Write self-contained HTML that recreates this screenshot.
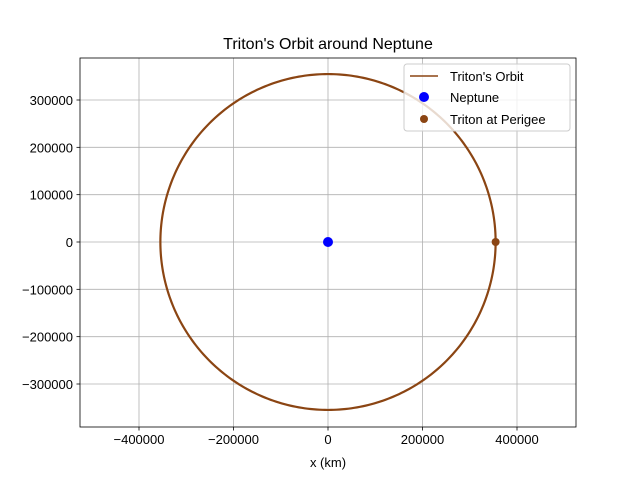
<!DOCTYPE html>
<html><head><meta charset="utf-8"><style>
html,body{margin:0;padding:0;background:#fff;}
svg{display:block;font-family:"Liberation Sans","DejaVu Sans",sans-serif;}
</style></head><body>
<svg id="chart" width="640" height="480" viewBox="0 0 640 480">
<rect width="640" height="480" fill="#fff"/>
<text x="328" y="49" font-size="16" text-anchor="middle">Triton's Orbit around Neptune</text>
<g id="grid"></g>
<g id="ticks"></g>
<g id="marks"></g>
<rect x="80" y="58" width="496" height="369" fill="none" stroke="#000" stroke-width="0.8"/>
<text x="328" y="467" font-size="13" text-anchor="middle">x (km)</text>
<g>
<rect x="404" y="64" width="166" height="67" rx="3" fill="#fff" fill-opacity="0.8" stroke="#ccc"/>
<line x1="410" y1="76" x2="438" y2="76" stroke="#8b4513" stroke-width="1.5"/>
<text x="450" y="81" font-size="13">Triton's Orbit</text>
<circle cx="424" cy="97" r="5" fill="blue"/>
<text x="450" y="102" font-size="13">Neptune</text>
<circle cx="424" cy="119" r="4" fill="#8b4513"/>
<text x="450" y="124" font-size="13">Triton at Perigee</text>
</g>
</svg>
<script>
const xTicks=[-400000,-200000,0,200000,400000];
const yTicks=[-300000,-200000,-100000,0,100000,200000,300000];
const orbitRadius=[354759];
const neptunePos=[0,0];
const perigeePos=[354759,0];
const NS="http://www.w3.org/2000/svg";
const L=80,R=576,T=58,B=427;
const xmin=-524868,xmax=524868,ymin=-390845,ymax=388732;
const sx=v=>L+(v-xmin)/(xmax-xmin)*(R-L);
const sy=v=>B-(v-ymin)/(ymax-ymin)*(B-T);
function mk(tag,attrs,parent){const e=document.createElementNS(NS,tag);for(const k in attrs)e.setAttribute(k,attrs[k]);document.getElementById(parent).appendChild(e);return e;}
xTicks.forEach(v=>{
 const x=sx(v);
 const g=mk('line',{x1:x,x2:x,y1:T,y2:B,stroke:'#b0b0b0','stroke-width':0.8},'grid');
 
 
 mk('line',{x1:x,x2:x,y1:B,y2:B+3.5,stroke:'#000','stroke-width':0.8},'ticks');
 const t=mk('text',{x:x,y:B+17,'font-size':13,'text-anchor':'middle'},'ticks');
 t.textContent=v<0?'\u2212'+(-v):String(v);
 
 
});
yTicks.forEach(v=>{
 const y=sy(v);
 const g=mk('line',{x1:L,x2:R,y1:y,y2:y,stroke:'#b0b0b0','stroke-width':0.8},'grid');
 
 
 mk('line',{x1:L-3.5,x2:L,y1:y,y2:y,stroke:'#000','stroke-width':0.8},'ticks');
 const t=mk('text',{x:L-7,y:y+5,'font-size':13,'text-anchor':'end'},'ticks');
 t.textContent=v<0?'\u2212'+(-v):String(v);
 
 
});
let d='';
for(let i=0;i<=360;i++){const a=i*Math.PI/180;const r=orbitRadius[0];d+=(i?'L':'M')+sx(r*Math.cos(a)).toFixed(2)+' '+sy(r*Math.sin(a)).toFixed(2);}
const orb=mk('path',{d:d,fill:'none',stroke:'#8b4513','stroke-width':2.2},'marks');


const n=mk('circle',{cx:sx(neptunePos[0]),cy:sy(neptunePos[1]),r:5,fill:'blue'},'marks');


const p=mk('circle',{cx:sx(perigeePos[0]),cy:sy(perigeePos[1]),r:4,fill:'#8b4513'},'marks');


</script>
</body></html>
